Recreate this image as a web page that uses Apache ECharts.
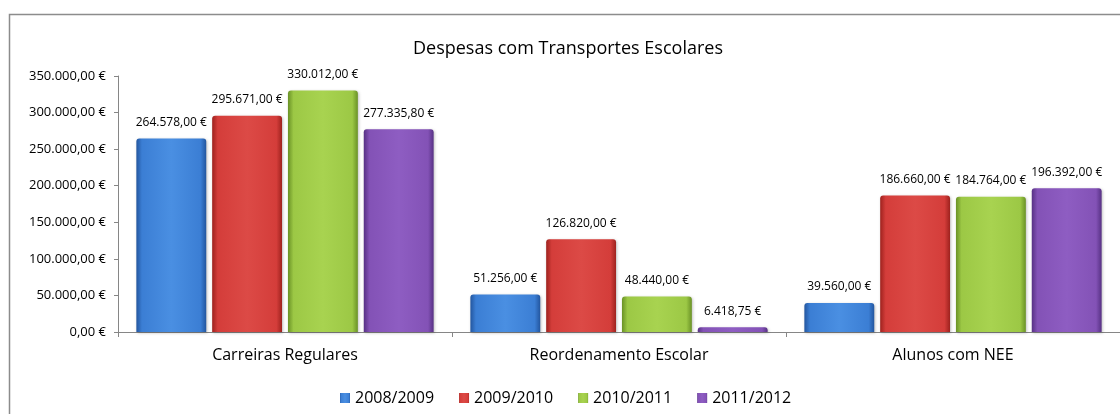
<!DOCTYPE html>
<html>
<head>
<meta charset="utf-8">
<script src="https://cdn.jsdelivr.net/npm/echarts@6/dist/echarts.min.js"></script>
<style>
html,body{margin:0;padding:0;background:#fff;}
#chart{width:1120px;height:414px;}
</style>
</head>
<body>
<div id="chart"></div>
<script>
var titleText = 'Despesas com Transportes Escolares';
var categories = ['Carreiras Regulares', 'Reordenamento Escolar', 'Alunos com NEE'];
var seriesNames = ['2008/2009', '2009/2010', '2010/2011', '2011/2012'];
var s2008 = [264578.00, 51256.00, 39560.00];
var s2009 = [295671.00, 126820.00, 186660.00];
var s2010 = [330012.00, 48440.00, 184764.00];
var s2011 = [277335.80, 6418.75, 196392.00];
var yTicks = [0, 50000, 100000, 150000, 200000, 250000, 300000, 350000];

var seriesData = [s2008, s2009, s2010, s2011];
var baseColors = [
  {mid:'#3b7ed4', light:'#4a8fe2', dark:'#23569f', legend:'#3a78c8'},
  {mid:'#d43d3a', light:'#dc4a46', dark:'#9e221e', legend:'#cc3a36'},
  {mid:'#9cc845', light:'#a8d350', dark:'#6a9226', legend:'#93bf3e'},
  {mid:'#8352b6', light:'#8e5dc2', dark:'#573184', legend:'#7d4dae'}
];

function fmt(v) {
  var parts = v.toFixed(2).split('.');
  var intPart = parts[0].replace(/\B(?=(\d{3})+(?!\d))/g, '.');
  return intPart + ',' + parts[1] + ' €';
}

function grad(c) {
  return new echarts.graphic.LinearGradient(0, 0, 1, 0, [
    {offset: 0, color: c.dark},
    {offset: 0.08, color: c.mid},
    {offset: 0.5, color: c.light},
    {offset: 0.92, color: c.mid},
    {offset: 1, color: c.dark}
  ]);
}

var chart = echarts.init(document.getElementById('chart'));
var series = seriesNames.map(function (name, i) {
  return {
    name: name,
    type: 'bar',
    data: seriesData[i],
    barGap: '8.5%',
    barCategoryGap: '11%',
    itemStyle: {
      color: grad(baseColors[i]),
      borderRadius: [3, 3, 0, 0],
      shadowColor: 'rgba(0,0,0,0.25)',
      shadowBlur: 3,
      shadowOffsetX: 1,
      shadowOffsetY: 1
    },
    label: {
      show: true,
      position: 'top',
      distance: 10,
      fontFamily: 'Open Sans',
      fontSize: 12,
      color: '#000',
      formatter: function (p) { return fmt(p.value); }
    }
  };
});

chart.setOption({
  animation: false,
  color: baseColors.map(function (c) { return c.legend; }),
  title: {
    text: titleText,
    left: 408,
    top: 35,
    textStyle: {fontFamily: 'Open Sans', fontSize: 18, fontWeight: 'normal', color: '#000'}
  },
  legend: {
    top: 385,
    left: 335,
    icon: 'rect',
    itemWidth: 10,
    itemHeight: 10,
    itemGap: 25,
    textStyle: {fontFamily: 'Open Sans', fontSize: 16, color: '#000'},
    data: seriesNames
  },
  grid: {left: 118, right: 0, top: 76, bottom: 82, containLabel: false},
  xAxis: {
    type: 'category',
    data: categories,
    axisLine: {lineStyle: {color: '#868686', width: 1}},
    axisTick: {show: true, length: 5, lineStyle: {color: '#868686'}},
    axisLabel: {fontFamily: 'Open Sans', fontSize: 16, color: '#000', margin: 15}
  },
  yAxis: {
    type: 'value',
    min: yTicks[0],
    max: yTicks[yTicks.length - 1],
    interval: yTicks[1] - yTicks[0],
    axisLine: {show: true, lineStyle: {color: '#868686', width: 1}},
    axisTick: {show: true, length: 4, lineStyle: {color: '#868686'}},
    splitLine: {show: false},
    axisLabel: {fontFamily: 'Open Sans', fontSize: 13, color: '#000', margin: 12, formatter: function (v) { return fmt(v); }}
  },
  graphic: [{
    type: 'rect',
    left: 7, top: 12,
    shape: {width: 1200, height: 500},
    style: {fill: 'none', stroke: '#8c8c8c', lineWidth: 1.5},
    silent: true,
    z: -1
  }],
  series: series
});
</script>
</body>
</html>
